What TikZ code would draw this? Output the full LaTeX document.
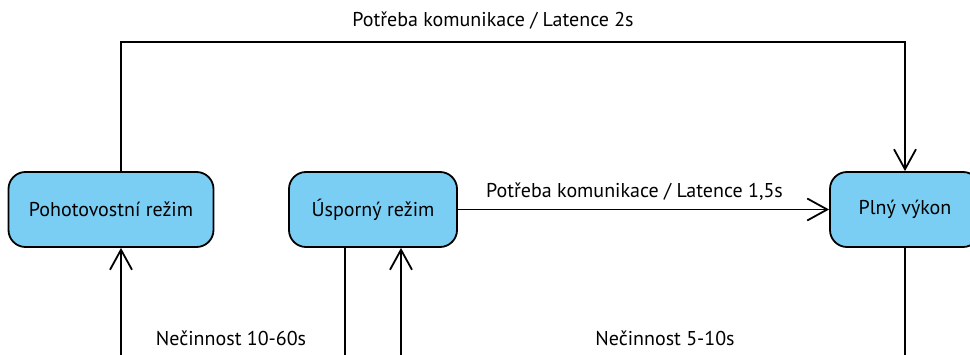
\documentclass[tikz,border=0pt]{standalone}
\usepackage{fontspec}
\setmainfont{PT Sans}
\usetikzlibrary{arrows.meta}
\definecolor{stavmodra}{RGB}{122,206,244}
\tikzset{
  stav/.style={draw, fill=stavmodra, rounded corners=17pt, line width=1.8pt,
    minimum height=75pt, inner sep=0pt, font=\fontsize{20}{22}\selectfont},
  prechod/.style={line width=1.8pt, -{Straight Barb[length=20pt,width=22pt,line width=1.8pt]}},
  cara/.style={line width=1.8pt},
  popis/.style={font=\fontsize{20}{22}\selectfont}
}
\begin{document}
\begin{tikzpicture}[x=1pt,y=1pt]
\useasboundingbox (0,0) rectangle (970,354);
\node[stav, minimum width=205pt] (poh) at (111,144.5) {Pohotovostní režim};
\node[stav, minimum width=168pt] (usp) at (373,144.5) {Úsporný režim};
\node[stav, minimum width=150pt] (plny) at (905,144.5) {Plný výkon};

% horni oblouk
\coordinate (hore1) at (121,312);
\coordinate (hore2) at (905,312);
\draw[prechod] (poh.north -| hore1) -- (hore1) -- (hore2) -- (plny.north);
\node[popis] (p2s) at (493,333) {Potřeba komunikace / Latence 2s};

\draw[prechod] (usp.east) -- (plny.west) node[popis, midway, above=5pt, xshift=-9pt] (p15) {Potřeba komunikace / Latence 1,5s};

% dolni casti
\coordinate (dolA) at (121,-10);
\coordinate (dolB) at (345,-10);
\coordinate (dolC) at (401,-10);
\coordinate (dolD) at (905,-10);
\draw[prechod] (dolA) -- (poh.south -| dolA);
\draw[cara] (usp.south -| dolB) -- (dolB);
\draw[prechod] (dolC) -- (usp.south -| dolC);
\draw[cara] (plny.south) -- (dolD);

\node[popis] (n1060) at (231,16) {Nečinnost 10-60s};
\node[popis] (n510) at (665,16) {Nečinnost 5-10s};
\end{tikzpicture}
\end{document}
